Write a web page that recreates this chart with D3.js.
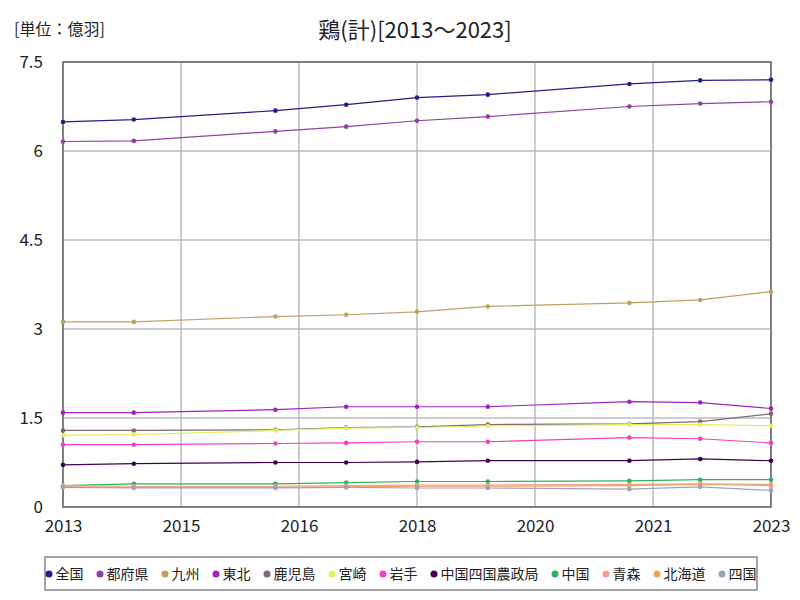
<!DOCTYPE html>
<html><head><meta charset="utf-8">
<script src="https://cdn.jsdelivr.net/npm/d3@7"></script>
<style>
body{margin:0;background:#fff;}
text{font-family:"Liberation Sans Narrow","Noto Sans CJK JP",sans-serif;}
.jp{font-family:"Noto Sans CJK JP",sans-serif;}
</style></head>
<body><svg id="chart" width="800" height="600"></svg>
<script>
const years = [2013, 2014, 2016, 2017, 2018, 2019, 2021, 2022, 2023];
const seriesNames = ["全国","都府県","九州","東北","鹿児島","宮崎","岩手","中国四国農政局","中国","青森","北海道","四国"];
const seriesColors = ["#202080","#9040a0","#c0a060","#a020c0","#806870","#e0f060","#f040c0","#400050","#30b060","#f4a090","#f0a060","#a0a0c0"];
const v_zenkoku = [6.49,6.53,6.68,6.78,6.90,6.95,7.13,7.19,7.20];
const v_tofuken = [6.16,6.17,6.33,6.41,6.51,6.58,6.75,6.80,6.83];
const v_kyushu  = [3.12,3.12,3.21,3.24,3.29,3.38,3.44,3.49,3.63];
const v_tohoku  = [1.59,1.59,1.64,1.69,1.69,1.69,1.775,1.76,1.66];
const v_kagoshima = [1.29,1.29,1.30,1.34,1.35,1.39,1.40,1.44,1.57];
const v_miyazaki = [1.21,1.22,1.29,1.33,1.34,1.365,1.39,1.39,1.37];
const v_iwate = [1.05,1.05,1.07,1.08,1.10,1.10,1.17,1.15,1.08];
const v_chushi = [0.71,0.73,0.75,0.75,0.76,0.78,0.78,0.81,0.78];
const v_chugoku = [0.36,0.39,0.39,0.41,0.43,0.43,0.44,0.46,0.46];
const v_aomori = [0.36,0.35,0.35,0.36,0.37,0.37,0.38,0.39,0.38];
const v_hokkaido = [0.34,0.33,0.33,0.34,0.35,0.35,0.36,0.38,0.36];
const v_shikoku = [0.33,0.32,0.32,0.33,0.32,0.32,0.30,0.34,0.28];
const seriesValues = [v_zenkoku,v_tofuken,v_kyushu,v_tohoku,v_kagoshima,v_miyazaki,v_iwate,v_chushi,v_chugoku,v_aomori,v_hokkaido,v_shikoku];
const xTickLabels = ["2013","2015","2016","2018","2020","2021","2023"];
const yTicks = [0,1.5,3,4.5,6,7.5];

const svg = d3.select("#chart");
const L=63,R=771,T=62,B=507;
const x = d3.scaleLinear().domain([2013,2023]).range([L,R]);
const y = d3.scaleLinear().domain([0,7.5]).range([B,T]);
const xTickVals = xTickLabels.map((d,i)=>2013 + i*10/(xTickLabels.length-1));

// grid
svg.append("g").selectAll("line").data(xTickVals).join("line")
  .attr("x1",d=>x(d)).attr("x2",d=>x(d)).attr("y1",T).attr("y2",B)
  .attr("stroke","#bbbbbb").attr("stroke-width",1.5);
svg.append("g").selectAll("line").data(yTicks).join("line")
  .attr("x1",L).attr("x2",R).attr("y1",d=>y(d)).attr("y2",d=>y(d))
  .attr("stroke","#bbbbbb").attr("stroke-width",1.5);

// axes
const xAxis = svg.append("g").attr("transform",`translate(0,${B})`)
  .call(d3.axisBottom(x).tickValues(xTickVals).tickFormat((d,i)=>xTickLabels[i]).tickSize(0).tickPadding(10));
const yAxis = svg.append("g").attr("transform",`translate(${L},0)`)
  .call(d3.axisLeft(y).tickValues(yTicks).tickFormat(d=>String(d)).tickSize(0).tickPadding(20));
[xAxis,yAxis].forEach(a=>{a.select(".domain").remove();a.selectAll("text").attr("font-size",17).attr("fill","#222").attr("font-family","'Liberation Sans Narrow',sans-serif");});
yAxis.selectAll("text").attr("dy","0.35em");
xAxis.selectAll("text").attr("dy","0.9em");

// border
svg.append("rect").attr("x",L).attr("y",T).attr("width",R-L).attr("height",B-T)
  .attr("fill","none").attr("stroke","#666").attr("stroke-width",1.5);

// lines
const line = d3.line().x((d,i)=>x(years[i])).y(d=>y(d));
const g = svg.append("g");
seriesValues.forEach((vals,s)=>{
  g.append("path").datum(vals).attr("d",line).attr("fill","none")
    .attr("stroke",seriesColors[s]).attr("stroke-width",1.2);
  g.append("g").selectAll("circle").data(vals).join("circle")
    .attr("cx",(d,i)=>x(years[i])).attr("cy",d=>y(d)).attr("r",2.3).attr("fill",seriesColors[s]);
});

// titles
svg.append("text").attr("class","jp").attr("x",415).attr("y",38).attr("text-anchor","middle")
  .attr("font-size",22).attr("fill","#222").text("鶏(計)[2013～2023]");
svg.append("text").attr("class","jp").attr("x",14).attr("y",35)
  .attr("font-size",16).attr("fill","#222").text("[単位：億羽]");

// legend
svg.append("rect").attr("x",45).attr("y",557).attr("width",712).attr("height",33)
  .attr("fill","#fff").attr("stroke","#888").attr("stroke-width",1.5);
const lg = svg.append("g");
let cx = 0;
seriesNames.forEach((n,i)=>{
  const it = lg.append("g");
  it.append("circle").attr("cx",cx+3.5).attr("cy",574).attr("r",3.5).attr("fill",seriesColors[i]);
  const t = it.append("text").attr("class","jp").attr("x",cx+10).attr("y",579).attr("font-size",14).attr("fill","#222").text(n);
  cx += 10 + t.node().getComputedTextLength() + 13;
});
const totalW = cx - 13;
lg.attr("transform",`translate(${45 + (712-totalW)/2},0)`);
</script></body></html>
